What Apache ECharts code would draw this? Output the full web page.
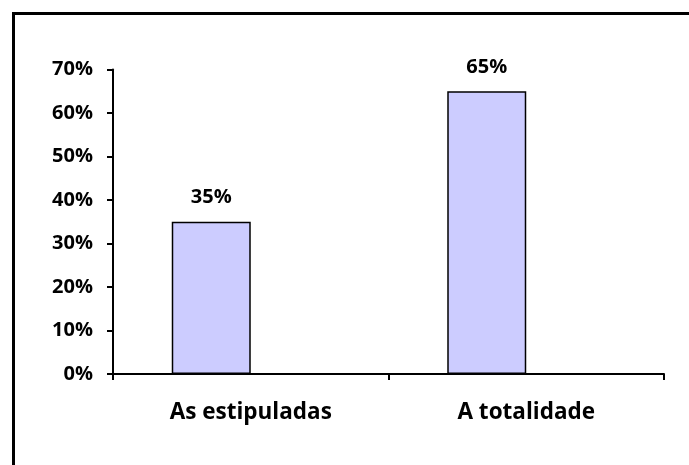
<!DOCTYPE html>
<html><head><meta charset="utf-8">
<script src="https://cdn.jsdelivr.net/npm/echarts@6/dist/echarts.min.js"></script>
<style>html,body{margin:0;padding:0;background:#fff}#c{width:689px;height:465px}</style>
</head><body><div id="c"></div>
<script>
const categories = ['As estipuladas', 'A totalidade'];
const values = [35, 65];
const emptySeries = [null, null];
const yTicks = [0, 10, 20, 30, 40, 50, 60, 70];

const font = '"Open Sans", sans-serif';
const fs = 20;
const chart = echarts.init(document.getElementById('c'));
chart.setOption({
  animation: false,
  backgroundColor: '#fff',
  graphic: [{
    type: 'rect', left: 11, top: 11, z: 100,
    shape: { width: 720, height: 520 },
    style: { fill: 'none', stroke: '#000', lineWidth: 3 }
  }],
  grid: { left: 113, right: 25, top: 69.5, bottom: 91 },
  xAxis: {
    type: 'category', data: categories,
    axisLine: { lineStyle: { color: '#000', width: 2 } },
    axisTick: { show: true, length: 6, lineStyle: { color: '#000', width: 2 } },
    axisLabel: { color: '#000', fontFamily: font, fontWeight: 'bold', fontSize: 22.5, margin: 27 }
  },
  yAxis: {
    type: 'value', min: yTicks[0], max: yTicks[yTicks.length - 1], interval: 10,
    axisLine: { show: true, lineStyle: { color: '#000', width: 2 } },
    axisTick: { show: true, length: 6, lineStyle: { color: '#000', width: 2 } },
    splitLine: { show: false },
    axisLabel: { color: '#000', fontFamily: font, fontWeight: 'bold', fontSize: fs, margin: 20, formatter: '{value}%' }
  },
  series: [{
    type: 'bar', data: values, barWidth: 79, barGap: '0%',
    itemStyle: { color: '#ccccff', borderColor: '#000', borderWidth: 1.5 },
    label: { show: true, position: 'top', distance: 14, color: '#000', fontFamily: font, fontWeight: 'bold', fontSize: fs, formatter: '{c}%' }
  }, {
    type: 'bar', data: emptySeries, barWidth: 79
  }]
});
</script></body></html>
